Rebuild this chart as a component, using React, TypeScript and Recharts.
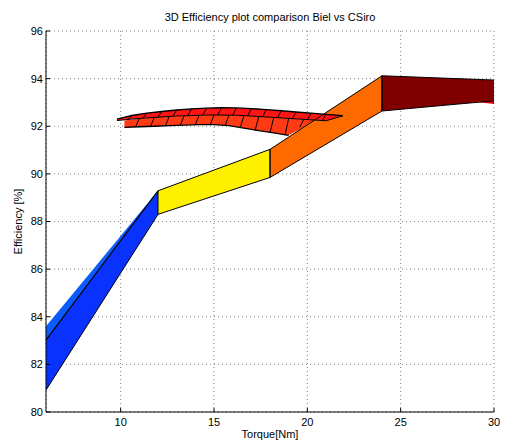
import React from 'react';
import { ComposedChart, Area, Line, XAxis, YAxis, CartesianGrid, Label } from 'recharts';

// ---- axis ticks ----
const xTicks = [10, 15, 20, 25, 30];
const yTicks = [80, 82, 84, 86, 88, 90, 92, 94, 96];

// ---- Biel bands (torque, efficiency low/high) ----
const blueX = [6, 12];
const blueLow = [80.92, 88.3];
const blueMid = [83.02, 89.29];
const blueHigh = [83.6, 89.29];

const yellowX = [12, 18];
const yellowLow = [88.3, 89.85];
const yellowHigh = [89.29, 91.03];

const orangeX = [18, 24];
const orangeLow = [89.85, 92.64];
const orangeHigh = [91.03, 94.12];

const darkX = [24, 30];
const darkLow = [92.64, 93.07];
const darkHigh = [94.12, 93.94];

const sliverX = [28.8, 30];
const sliverLow = [93.04, 92.93];
const sliverHigh = [93.05, 93.07];

// ---- CSiro surface (two mesh rows) ----
const topRowX = [9.8, 10.6, 11.4, 12.2, 13.0, 13.8, 14.6, 15.4, 16.2, 17.0, 17.8, 18.6, 19.4, 20.2, 21.0, 21.9];
const topRowHigh = [92.3, 92.45, 92.55, 92.62, 92.68, 92.73, 92.76, 92.78, 92.77, 92.74, 92.7, 92.65, 92.6, 92.55, 92.5, 92.44];
const topRowLow = [92.24, 92.3, 92.35, 92.39, 92.43, 92.45, 92.47, 92.47, 92.46, 92.43, 92.39, 92.35, 92.31, 92.27, 92.23, 92.44];

// visible part of the lower row (its right end disappears behind the orange band)
const lowRowX = [10.2, 11.0, 11.8, 12.6, 13.4, 14.2, 15.0, 15.8, 16.6, 17.4, 18.2, 19.0, 19.8, 20.4];
const lowRowHigh = [92.24, 92.32, 92.37, 92.41, 92.44, 92.46, 92.47, 92.47, 92.45, 92.42, 92.37, 92.33, 92.28, 92.26];
const lowRowLow = [91.95, 91.98, 92.0, 92.03, 92.05, 92.07, 92.07, 92.03, 91.92, 91.82, 91.72, 91.62, 91.96, 92.26];
const lowRowEdgeCount = 12;

const meshSlant = 0.2;

type Pt = { x: number; v?: [number, number]; y?: number | null };

const band = (xs: number[], lo: number[], hi: number[]): Pt[] =>
  xs.map((x, i) => ({ x, v: [lo[i], hi[i]] }));
const line = (xs: number[], ys: number[]): Pt[] => xs.map((x, i) => ({ x, y: ys[i] }));
const outline = (xs: number[], lo: number[], hi: number[]): Pt[] => {
  const pts: Pt[] = xs.map((x, i) => ({ x, y: lo[i] }));
  for (let i = xs.length - 1; i >= 0; i--) pts.push({ x: xs[i], y: hi[i] });
  pts.push({ x: xs[0], y: lo[0] });
  return pts;
};
const mesh = (xs: number[], hi: number[], lo: number[]): Pt[] => {
  const pts: Pt[] = [];
  xs.forEach((x, i) => {
    if (i === 0 || i === xs.length - 1) return;
    pts.push({ x, y: hi[i] });
    pts.push({ x: x - meshSlant, y: lo[i] });
    pts.push({ x: x - meshSlant, y: null });
  });
  return pts;
};

const font = '"Liberation Sans", Arial, Helvetica, sans-serif';

export default function App() {
  const areaProps = {
    type: 'linear' as const,
    dataKey: 'v',
    stroke: 'none',
    fillOpacity: 1,
    isAnimationActive: false,
    dot: false,
    activeDot: false,
    legendType: 'none' as const,
  };
  const lineProps = {
    type: 'linear' as const,
    dataKey: 'y',
    stroke: '#000',
    dot: false,
    activeDot: false,
    isAnimationActive: false,
    connectNulls: false,
    legendType: 'none' as const,
  };
  return (
    <div style={{ position: 'absolute', left: 0, top: 0, width: 506, height: 445, background: '#fff' }}>
      <div
        style={{
          position: 'absolute',
          left: 0,
          width: 540,
          top: 10,
          lineHeight: '14px',
          textAlign: 'center',
          fontFamily: font,
          fontSize: 11,
          color: '#000',
        }}
      >
        3D Efficiency plot comparison Biel vs CSiro
      </div>
      <ComposedChart width={506} height={445} margin={{ top: 31, right: 12, left: 6, bottom: 0 }}>
        <CartesianGrid stroke="#808080" strokeDasharray="1 3" strokeWidth={1} />
        <XAxis
          type="number"
          dataKey="x"
          domain={[6, 30]}
          ticks={xTicks}
          allowDataOverflow
          height={33}
          tickSize={-4}
          tickMargin={10}
          axisLine={{ stroke: '#000' }}
          tickLine={{ stroke: '#000' }}
          tick={{ fill: '#000', fontSize: 11, fontFamily: font }}
        >
          <Label value="Torque[Nm]" position="insideBottom" offset={7} fill="#000" fontSize={11} fontFamily={font} />
        </XAxis>
        <YAxis
          type="number"
          domain={[80, 96]}
          ticks={yTicks}
          allowDataOverflow
          width={40}
          tickSize={-4}
          tickMargin={7}
          axisLine={{ stroke: '#000' }}
          tickLine={{ stroke: '#000' }}
          tick={{ fill: '#000', fontSize: 11, fontFamily: font }}
          label={{
            content: (p: any) => {
              const vb = p.viewBox || { x: 6, y: 31, width: 40, height: 381 };
              const cx = vb.x + 12;
              const cy = vb.y + vb.height / 2;
              return (
                <text
                  x={cx}
                  y={cy}
                  transform={`rotate(-90 ${cx} ${cy})`}
                  textAnchor="middle"
                  dominantBaseline="central"
                  fontSize={11}
                  fontFamily={font}
                  fill="#000"
                >
                  Efficiency [%]
                </text>
              );
            },
          }}
        />

        {/* blue band */}
        <Area {...areaProps} data={band(blueX, blueLow, blueMid)} fill="#0a32ff" />
        <Area {...areaProps} data={band(blueX, blueMid, blueHigh)} fill="#0a5cff" />
        <Line {...lineProps} data={line(blueX, blueLow)} strokeWidth={1} />
        <Line {...lineProps} data={line(blueX, blueMid)} strokeWidth={1.2} />

        {/* yellow band */}
        <Area {...areaProps} data={band(yellowX, yellowLow, yellowHigh)} fill="#fff000" />
        <Line {...lineProps} data={outline(yellowX, yellowLow, yellowHigh)} strokeWidth={1} />

        {/* CSiro lower mesh row (behind orange) */}
        <Area {...areaProps} data={band(lowRowX, lowRowLow, lowRowHigh)} fill="#ff3a14" />
        <Line {...lineProps} data={mesh(lowRowX, lowRowHigh, lowRowLow)} strokeWidth={1} />
        <Line
          {...lineProps}
          data={line(lowRowX.slice(0, lowRowEdgeCount), lowRowLow.slice(0, lowRowEdgeCount))}
          strokeWidth={1.3}
        />

        {/* orange band */}
        <Area {...areaProps} data={band(orangeX, orangeLow, orangeHigh)} fill="#ff6a00" />
        <Line {...lineProps} data={outline(orangeX, orangeLow, orangeHigh)} strokeWidth={1} />

        {/* dark red band */}
        <Area {...areaProps} data={band(darkX, darkLow, darkHigh)} fill="#800000" />
        <Area {...areaProps} data={band(sliverX, sliverLow, sliverHigh)} fill="#e00000" />
        <Line {...lineProps} data={line(darkX, darkLow)} strokeWidth={1} />
        <Line {...lineProps} data={line(darkX, darkHigh)} strokeWidth={1} />
        <Line {...lineProps} data={line([darkX[0], darkX[0]], [darkLow[0], darkHigh[0]])} strokeWidth={1} />

        {/* CSiro upper mesh row */}
        <Area {...areaProps} data={band(topRowX, topRowLow, topRowHigh)} fill="#ff1414" />
        <Line {...lineProps} data={mesh(topRowX, topRowHigh, topRowLow)} strokeWidth={1} />
        <Line {...lineProps} data={line(topRowX, topRowLow)} strokeWidth={1} />
        <Line {...lineProps} data={line(topRowX, topRowHigh)} strokeWidth={1.4} />
      </ComposedChart>
    </div>
  );
}
